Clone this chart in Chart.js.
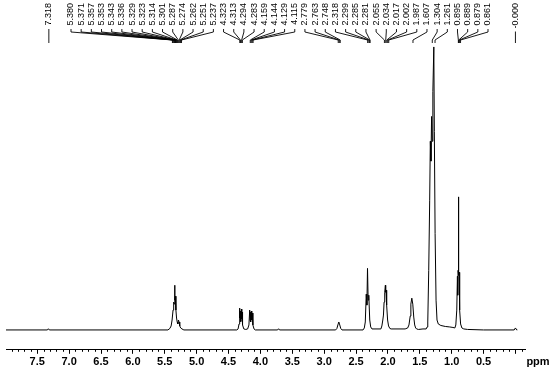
<!DOCTYPE html>
<html lang="en">
<head>
<meta charset="UTF-8">
<script src="https://cdn.jsdelivr.net/npm/chart.js@4.4.0/dist/chart.umd.min.js"></script>
<title>1H NMR</title>
<style>
    body { margin: 0; background: #fff; }
    #wrap { width: 550px; height: 376px; }
</style>
</head>
<body>
<div id="wrap"><canvas id="nmr" width="550" height="376"></canvas></div>
<script>
// spectrum trace: chemical shift (ppm) and intensity
var shiftPpm = [
    7.99, 7.34, 7.325, 7.31,
    5.45, 5.42, 5.40, 5.385, 5.37, 5.36, 5.35, 5.345, 5.34, 5.335, 5.325, 5.315, 5.305, 5.295, 5.285, 5.275, 5.265, 5.25, 5.23, 5.20,
    4.37, 4.35, 4.335, 4.328, 4.322, 4.318, 4.31, 4.305, 4.298, 4.292, 4.288, 4.28, 4.26, 4.23,
    4.20, 4.18, 4.168, 4.162, 4.156, 4.149, 4.142, 4.135, 4.128, 4.118, 4.10, 4.08,
    3.73, 3.715, 3.70,
    2.82, 2.80, 2.785, 2.77, 2.755, 2.74, 2.72,
    2.39, 2.37, 2.355, 2.34, 2.33, 2.32, 2.31, 2.30, 2.285, 2.27, 2.25,
    2.11, 2.095, 2.08, 2.07, 2.06, 2.05, 2.04, 2.035, 2.03, 2.02, 2.005, 1.99, 1.97, 1.95,
    1.73, 1.69, 1.67, 1.65, 1.64, 1.625, 1.61, 1.595, 1.58, 1.565, 1.55, 1.52, 1.45,
    1.40, 1.385, 1.375, 1.36, 1.345, 1.335, 1.325, 1.315, 1.305, 1.295, 1.28, 1.272, 1.26, 1.245, 1.23, 1.21, 1.17, 1.10, 1.03, 0.98,
    0.95, 0.935, 0.92, 0.91, 0.905, 0.90, 0.895, 0.888, 0.882, 0.875, 0.86, 0.84, 0.81, 0.75, 0.50,
    0.02, 0.0, -0.02, -0.03
];
var intensity = [
    0, 0, 1.2, 0,
    0, 1.5, 4, 10, 20, 28, 26, 45, 30, 34, 20, 12, 8, 6, 10, 8, 4, 2, 1, 0,
    0, 1, 6, 22, 12, 19, 8, 9, 21, 11, 18, 5, 1, 0.5,
    1, 5, 20, 10, 18, 8, 19, 10, 17, 5, 1, 0,
    0, 1.2, 0,
    0, 1.5, 5, 8, 5, 1.5, 0,
    0, 2, 8, 36, 25, 62, 30, 35, 10, 3, 1,
    1, 4, 10, 15, 28, 38, 45, 38, 40, 25, 10, 4, 1.5, 1,
    1, 2, 5, 14, 26, 32, 26, 13, 5, 2, 1, 0.5, 1,
    1, 3, 8, 60, 130, 190, 170, 215, 190, 240, 285, 200, 97, 30, 10, 6, 4.5, 3.5, 3, 2.5,
    2, 5, 20, 54, 35, 60, 134, 55, 58, 20, 6, 2, 1, 0.5, 0,
    0, 2, 0, 0
];
// peak pick labels printed above the spectrum
var peakLabels = [
    '7.318',
    '5.380', '5.371', '5.357', '5.353', '5.343', '5.336', '5.329', '5.323', '5.314', '5.301', '5.287', '5.274', '5.262', '5.251', '5.237',
    '4.323', '4.313', '4.294', '4.283', '4.159', '4.144', '4.129', '4.115',
    '2.779', '2.763', '2.748',
    '2.318', '2.299', '2.285', '2.281',
    '2.055', '2.034', '2.017', '2.002', '1.987',
    '1.607', '1.304', '1.261',
    '0.895', '0.889', '0.879', '0.861',
    '-0.000'
];
var axisLabels = [7.5, 7.0, 6.5, 6.0, 5.5, 5.0, 4.5, 4.0, 3.5, 3.0, 2.5, 2.0, 1.5, 1.0, 0.5];

var FONT = '"Liberation Sans", Arial, Helvetica, sans-serif';

var points = shiftPpm.map(function (p, i) {
    return { x: p, y: intensity[i] };
});

// peak labels, minor ticks and the ppm unit
var nmrDecor = {
    id: 'nmrDecor',
    afterDraw: function (chart) {
        var ctx = chart.ctx;
        var xs = chart.scales.x;
        var n = peakLabels.length;
        ctx.save();
        ctx.fillStyle = '#000';
        ctx.strokeStyle = '#000';
        ctx.lineWidth = 0.9;
        ctx.font = '9px ' + FONT;

        peakLabels.forEach(function (lab, i) {
            var px = xs.getPixelForValue(parseFloat(lab));
            var lx;
            if (i === 0 || i === n - 1) {
                lx = px;
            } else {
                lx = 71 + (i - 1) * (488 - 71) / (n - 3);
            }
            var w = ctx.measureText(lab).width;
            ctx.save();
            ctx.translate(lx, 3);
            ctx.rotate(-Math.PI / 2);
            ctx.textAlign = 'right';
            ctx.textBaseline = 'middle';
            ctx.fillText(lab, 0, 0);
            ctx.restore();

            ctx.beginPath();
            ctx.moveTo(lx, Math.max(29, 3 + w + 3));
            ctx.lineTo(lx, 32);
            ctx.lineTo(px, 40);
            ctx.lineTo(px, 43);
            ctx.stroke();
        });

        // minor ticks every 0.1 ppm
        var yb = chart.chartArea.bottom;
        ctx.lineWidth = 1;
        for (var k = -1; k <= 79; k++) {
            if (k % 5 === 0) continue;
            var x = Math.round(xs.getPixelForValue(k / 10)) + 0.5;
            ctx.beginPath();
            ctx.moveTo(x, yb);
            ctx.lineTo(x, yb + 2);
            ctx.stroke();
        }

        ctx.font = 'bold 11px ' + FONT;
        ctx.textAlign = 'center';
        ctx.textBaseline = 'middle';
        ctx.fillText('ppm', xs.right + 13, yb + 12);
        ctx.restore();
    }
};

var chart = new Chart(document.getElementById('nmr'), {
    type: 'line',
    data: {
        datasets: [{
            data: points,
            borderColor: '#000',
            borderWidth: 1,
            pointRadius: 0,
            tension: 0,
            fill: false
        }]
    },
    options: {
        responsive: false,
        animation: false,
        devicePixelRatio: 1,
        layout: { padding: { left: 6, right: 25, top: 40, bottom: 5 } },
        plugins: {
            legend: { display: false },
            tooltip: { enabled: false }
        },
        scales: {
            x: {
                type: 'linear',
                reverse: true,
                min: -0.15,
                max: 7.99,
                border: { display: true, color: '#000', width: 1 },
                grid: { drawOnChartArea: false, drawTicks: true, tickLength: 4, color: '#000' },
                ticks: {
                    stepSize: 0.5,
                    includeBounds: false,
                    autoSkip: false,
                    maxRotation: 0,
                    padding: 2,
                    color: '#000',
                    font: { family: FONT, size: 11, weight: 'bold' },
                    callback: function (v) {
                        var hit = axisLabels.some(function (a) { return Math.abs(a - v) < 1e-6; });
                        return hit ? v.toFixed(1) : '';
                    }
                }
            },
            y: {
                display: false,
                min: -20,
                max: 292
            }
        }
    },
    plugins: [nmrDecor]
});
</script>
</body>
</html>
